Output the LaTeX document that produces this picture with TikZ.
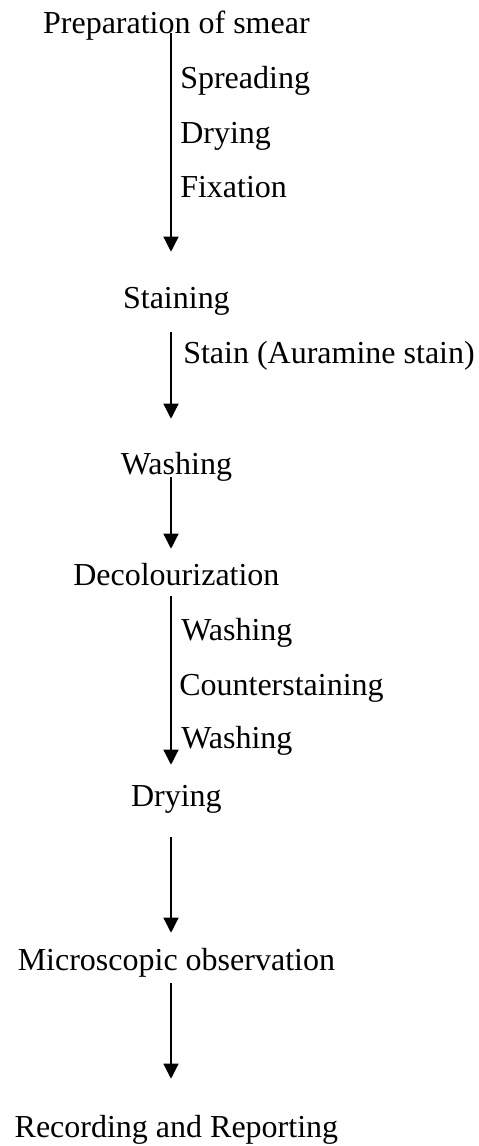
\documentclass[tikz,border=0pt]{standalone}
\usepackage{fontspec}
\setmainfont{Liberation Serif}
\usepackage{tikz}
\usetikzlibrary{positioning,calc,arrows.meta}

\begin{document}
\begin{tikzpicture}[
        stage/.style={anchor=base, inner sep=0pt, text height=0.55cm, text depth=0.175cm, font=\fontsize{22.76pt}{27pt}\selectfont},
        note/.style={stage, anchor=base west},
        flow/.style={line width=0.9pt, -{Triangle[length=0.375cm, width=0.375cm]}}
    ]
    \useasboundingbox (0,0) rectangle (11.975,-28.65);

    % Define main stages
    \node[stage] (Prep) at (4.41, -0.825) {Preparation of smear};
    \node[stage] (Stain) at (4.41, -7.7) {Staining};
    \node[stage] (Wash) at (4.41, -11.85) {Washing};
    \node[stage] (Decol) at (4.41, -14.625) {Decolourization};
    \node[stage] (Dry) at (4.41, -20.15) {Drying};
    \node[stage] (Micro) at (4.41, -24.25) {Microscopic observation};
    \node[stage] (Report) at (4.41, -28.425) {Recording and Reporting};

    % Notes beside the arrows
    \node[note] (Spread) at (4.5, -2.2) {Spreading};
    \node[note] (DryA) at (4.5, -3.575) {Drying};
    \node[note] (Fix) at (4.5, -4.925) {Fixation};
    \node[note] (Aura) at (4.575, -9.075) {Stain (Auramine stain)};
    \node[note] (WashA) at (4.525, -16.0) {Washing};
    \node[note] (Counter) at (4.475, -17.375) {Counterstaining};
    \node[note] (WashB) at (4.525, -18.7) {Washing};

    % Arrows between stages
    \coordinate (ax) at (4.275, 0);
    \draw[flow, shorten <=-0.175cm, shorten >=0.85cm] (Prep.south -| ax) -- (Stain.north -| ax);
    \draw[flow, shorten <=0.425cm, shorten >=0.825cm] (Stain.south -| ax) -- (Wash.north -| ax);
    \draw[flow, shorten <=-0.1cm, shorten >=0.35cm] (Wash.south -| ax) -- (Decol.north -| ax);
    \draw[flow, shorten <=0.1cm, shorten >=0.475cm] (Decol.south -| ax) -- (Dry.north -| ax);
    \draw[flow, shorten <=0.6cm, shorten >=0.375cm] (Dry.south -| ax) -- (Micro.north -| ax);
    \draw[flow, shorten <=0.15cm, shorten >=0.9cm] (Micro.south -| ax) -- (Report.north -| ax);

\end{tikzpicture}
\end{document}
